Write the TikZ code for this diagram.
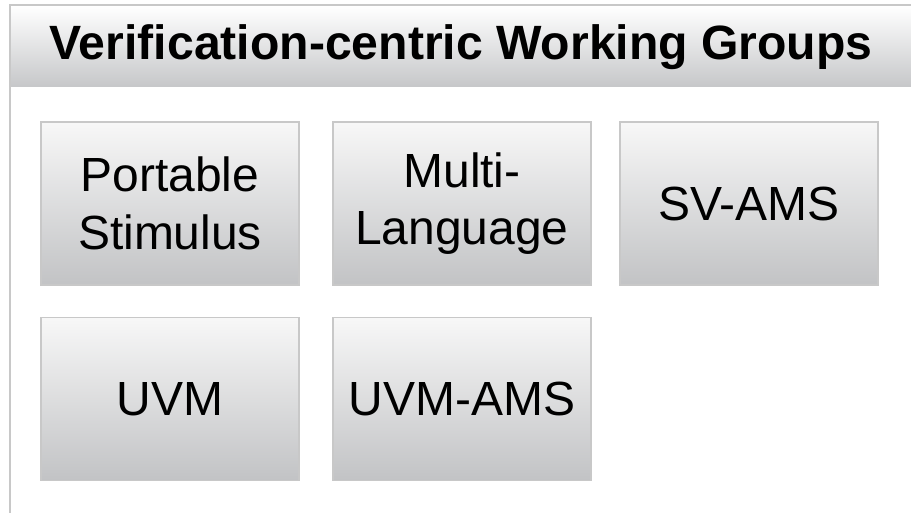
\documentclass[tikz,border=0pt]{standalone}
\usepackage{fontspec}
\setmainfont{Liberation Sans}
\usepackage{tikz}
\usetikzlibrary{positioning}
\definecolor{edgegray}{HTML}{C8C8C8}
\definecolor{shadegray}{HTML}{C2C3C5}
\definecolor{headgray}{HTML}{C6C7C9}

\begin{document}
\begin{tikzpicture}[
  x=0.02cm, y=-0.02cm,
  group/.style={draw=edgegray, line width=1.1pt, rectangle, minimum width=5.16cm, minimum height=3.26cm, align=center, top color=white!97!black, bottom color=shadegray, font=\fontsize{27.3}{32.8}\selectfont},
  header/.style={font=\bfseries\fontsize{27.4}{32.8}\selectfont},
  frame/.style={edgegray, line width=1.1pt}
]
\useasboundingbox (0,0) rectangle (911,513);

% ================= HEADER =================
\fill[top color=white, bottom color=headgray] (11,6) rectangle (911,87);
\coordinate (tl) at (10,5);
\coordinate (tr) at (911,5);
\coordinate (bl) at (10,513);
\draw[frame] (tr) -- (tl) -- (bl);
\node[header] (title) at (461,47) {Verification-centric Working Groups};

% ================= ROW 1 =================
\node[group] (pss) at (170,203.5) {Portable\\Stimulus};
\node[group] (ml) at (462,203.5) {Multi-\\Language};
\node[group] (svams) at (749,203.5) {SV-AMS};
% ================= ROW 2 =================
\node[group] (uvm) at (170,399) {UVM};
\node[group] (uvmams) at (462,399) {UVM-AMS};

\end{tikzpicture}
\end{document}
